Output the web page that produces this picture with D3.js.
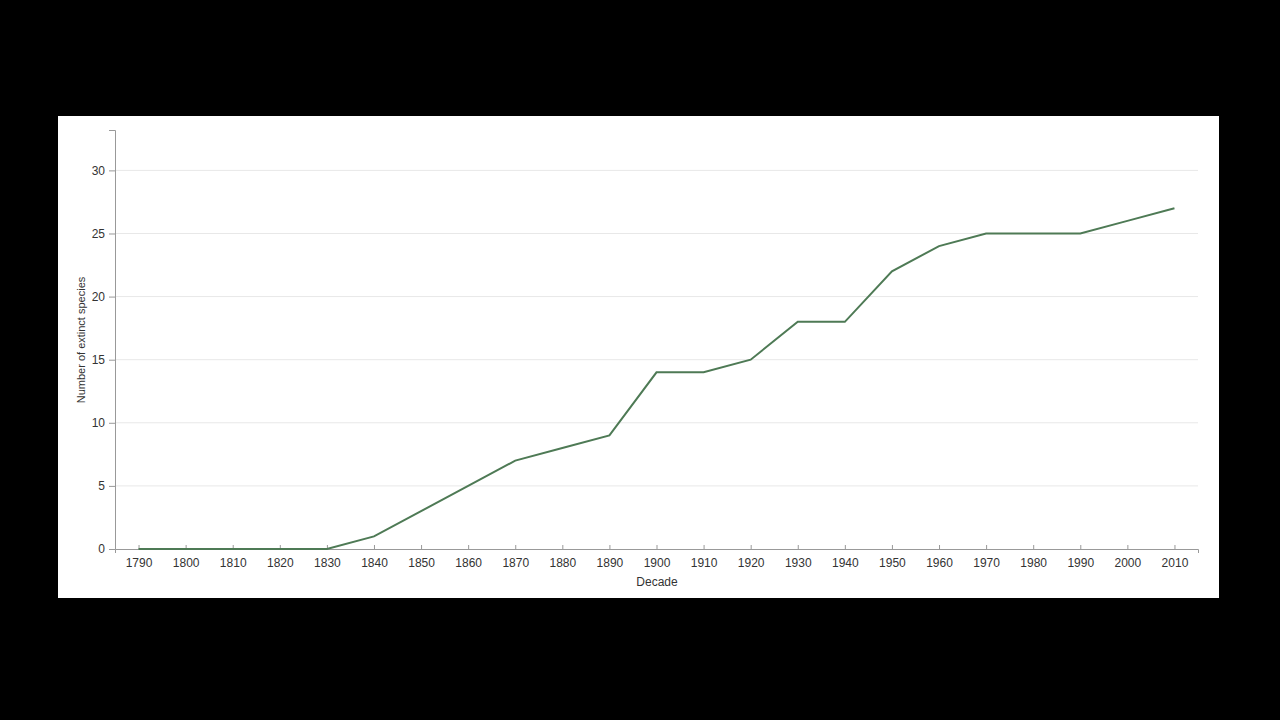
<!DOCTYPE html>
<html>
<head>
<meta charset="utf-8">
<script src="https://cdn.jsdelivr.net/npm/d3@7"></script>
<style>
  body { margin: 0; background: #000; }
  svg { display: block; }
  .grid line { stroke: #e8e8e8; }
  .axis text { font-family: "Liberation Sans", Arial, sans-serif; font-size: 12px; fill: #333; }
  .axis path, .axis line { stroke: #999; }
</style>
</head>
<body>
<svg id="chart" width="1280" height="720"></svg>
<script>
const decades = ['1790','1800','1810','1820','1830','1840','1850','1860','1870','1880','1890',
  '1900','1910','1920','1930','1940','1950','1960','1970','1980','1990','2000','2010'];
const extinct = [0,0,0,0,0,1,3,5,7,8,9,14,14,15,18,18,22,24,25,25,25,26,27];
const yTicks = [0,5,10,15,20,25,30];

let svg = d3.select('#chart');

// white panel
svg.append('rect')
  .attr('x', 58).attr('y', 116)
  .attr('width', 1161).attr('height', 482)
  .attr('fill', '#fff');

let margin = {l: 115, t: 130, r: 1198, b: 549};

let xScale = d3.scalePoint()
  .domain(decades)
  .range([margin.l, margin.r])
  .padding(0.5);

let yScale = d3.scaleLinear()
  .domain([0, 33.2])
  .range([margin.b, margin.t]);

// gridlines
svg.append('g')
  .classed('grid', true)
  .selectAll('line')
  .data(yTicks.slice(1))
  .join('line')
  .attr('x1', margin.l).attr('x2', margin.r)
  .attr('y1', d => yScale(d)).attr('y2', d => yScale(d));

let yAxis = d3.axisLeft(yScale)
  .tickValues(yTicks)
  .tickSize(6)
  .tickPadding(4);

svg.append('g')
  .classed('axis', true)
  .attr('transform', `translate(${margin.l},0)`)
  .call(yAxis);

let xAxis = d3.axisBottom(xScale)
  .tickSize(-4)
  .tickSizeOuter(4)
  .tickPadding(9);

svg.append('g')
  .classed('axis', true)
  .attr('transform', `translate(0,${margin.b})`)
  .call(xAxis);

let line = d3.line()
  .x((d, i) => xScale(decades[i]))
  .y(d => yScale(d));

svg.append('path')
  .datum(extinct)
  .attr('d', line)
  .attr('fill', 'none')
  .attr('stroke', '#4e7a55')
  .attr('stroke-width', 2);

// axis titles
svg.append('text')
  .attr('x', 657).attr('y', 586)
  .attr('text-anchor', 'middle')
  .style('font-family', '"Liberation Sans", Arial, sans-serif')
  .style('font-size', '12px')
  .attr('fill', '#333')
  .text('Decade');

svg.append('text')
  .attr('transform', 'translate(85,340) rotate(-90)')
  .attr('text-anchor', 'middle')
  .style('font-family', '"Liberation Sans", Arial, sans-serif')
  .style('font-size', '11px')
  .attr('fill', '#333')
  .text('Number of extinct species');
</script>
</body>
</html>
